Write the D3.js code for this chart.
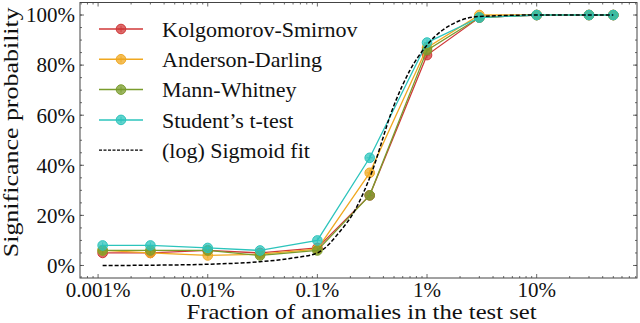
<!DOCTYPE html>
<html>
<head>
<meta charset="utf-8">
<script src="https://cdn.jsdelivr.net/npm/d3@7"></script>
<style>
  body { margin: 0; background: #fff; }
  text { font-family: "Liberation Serif", "DejaVu Serif", serif; fill: #111; }
</style>
</head>
<body>
<div id="chart"></div>
<script>
// fraccion de anomalias (eje x)
const fractions = [1.1e-5, 3e-5, 1e-4, 3e-4, 1e-3, 3e-3, 1e-2, 3e-2, 0.1, 0.3, 0.5];

// probabilidades por test
const ksValues = [0.05, 0.05, 0.06, 0.05, 0.07, 0.28, 0.84, 0.99, 1, 1, 1];
const adValues = [0.06, 0.05, 0.04, 0.045, 0.065, 0.37, 0.87, 1.0, 1, 1, 1];
const mwValues = [0.06, 0.06, 0.06, 0.04, 0.06, 0.28, 0.86, 0.99, 1, 1, 1];
const ttValues = [0.08, 0.08, 0.07, 0.06, 0.10, 0.43, 0.89, 0.99, 1, 1, 1];

// ajuste sigmoide
const fitX = [1.1e-5, 3e-5, 1e-4, 3e-4, 6e-4, 1e-3, 1.6e-3, 2.2e-3, 3e-3, 5e-3, 7e-3, 1e-2, 2e-2, 3e-2, 0.1, 0.5];
const fitY = [0, 0.001, 0.005, 0.015, 0.03, 0.05, 0.135, 0.22, 0.35, 0.64, 0.78, 0.88, 0.978, 0.994, 1, 1];

const seriesNames = ["Kolgomorov-Smirnov", "Anderson-Darling", "Mann-Whitney", "Student\u2019s t-test"];
const seriesColors = ["#d03838", "#f0a820", "#7a9c2c", "#2cc4bc"];
const xTicks = [1e-5, 1e-4, 1e-3, 1e-2, 1e-1];
const xTickLabels = ["0.001%", "0.01%", "0.1%", "1%", "10%"];
const yTicks = [0, 0.2, 0.4, 0.6, 0.8, 1];

const totalWidth = 640, totalHeight = 323;
const margins = { top: 2.5, right: 3, bottom: 45, left: 80 };
const w = totalWidth - margins.left - margins.right;
const h = totalHeight - margins.top - margins.bottom;

const svg = d3.select("#chart").append("svg")
  .attr("width", totalWidth).attr("height", totalHeight)
  .append("g")
  .attr("transform", `translate(${margins.left},${margins.top})`);

const x = d3.scaleLog().domain([10 ** -5.165, 10 ** -0.085]).range([0, w]);
const y = d3.scaleLinear().domain([-0.05, 1.05]).range([h, 0]);

// ticks menores
const minorX = [];
for (let e = -6; e <= 0; e++) for (let m = 2; m <= 9; m++) {
  const v = m * 10 ** e;
  if (v > x.domain()[0] && v < x.domain()[1]) minorX.push(v);
}
const minorY = d3.range(-0.05, 1.06, 0.05).filter(v => v > -0.05 && v < 1.05);

const axisColor = "#444";
const tickG = svg.append("g").attr("stroke", axisColor).attr("stroke-width", 0.8);
xTicks.forEach(v => {
  tickG.append("line").attr("x1", x(v)).attr("x2", x(v)).attr("y1", h).attr("y2", h - 4);
  tickG.append("line").attr("x1", x(v)).attr("x2", x(v)).attr("y1", 0).attr("y2", 4);
});
minorX.forEach(v => {
  tickG.append("line").attr("x1", x(v)).attr("x2", x(v)).attr("y1", h).attr("y2", h - 2);
  tickG.append("line").attr("x1", x(v)).attr("x2", x(v)).attr("y1", 0).attr("y2", 2);
});
yTicks.forEach(v => {
  tickG.append("line").attr("x1", 0).attr("x2", 4).attr("y1", y(v)).attr("y2", y(v));
  tickG.append("line").attr("x1", w).attr("x2", w - 4).attr("y1", y(v)).attr("y2", y(v));
});
minorY.forEach(v => {
  tickG.append("line").attr("x1", 0).attr("x2", 2).attr("y1", y(v)).attr("y2", y(v));
  tickG.append("line").attr("x1", w).attr("x2", w - 2).attr("y1", y(v)).attr("y2", y(v));
});

svg.append("rect").attr("width", w).attr("height", h)
  .attr("fill", "none").attr("stroke", axisColor).attr("stroke-width", 1);

// etiquetas de ticks
svg.append("g").selectAll("text").data(xTicks).join("text")
  .attr("x", d => x(d)).attr("y", h + 18.5)
  .attr("text-anchor", "middle").attr("font-size", 21)
  .text((d, i) => xTickLabels[i]);

svg.append("g").selectAll("text").data(yTicks).join("text")
  .attr("x", -5).attr("y", d => y(d)).attr("dy", "0.35em")
  .attr("text-anchor", "end").attr("font-size", 21)
  .text(d => `${Math.round(d * 100)}%`);

svg.append("text")
  .attr("x", 281.5).attr("y", h + 41)
  .attr("text-anchor", "middle").attr("font-size", 21)
  .attr("textLength", 350).attr("lengthAdjust", "spacingAndGlyphs")
  .text("Fraction of anomalies in the test set");

svg.append("text")
  .attr("transform", `translate(-62,${h / 2 - 8}) rotate(-90)`)
  .attr("text-anchor", "middle").attr("font-size", 21)
  .attr("textLength", 250).attr("lengthAdjust", "spacingAndGlyphs")
  .text("Significance probability");

// lineas
const allValues = [ksValues, adValues, mwValues, ttValues];
const line = d3.line().x(d => x(d[0])).y(d => y(d[1]));
const fitLine = d3.line().x(d => x(d[0])).y(d => y(d[1])).curve(d3.curveMonotoneX);

const drawMarker = (g, cx, cy, color) => {
  g.append("circle").attr("cx", cx).attr("cy", cy).attr("r", 4.8)
    .attr("fill", color).attr("fill-opacity", 0.75)
    .attr("stroke", color).attr("stroke-width", 1);
  g.append("path").attr("d", `M${cx - 3},${cy}H${cx + 3}M${cx},${cy - 3}V${cy + 3}`)
    .attr("stroke", color).attr("stroke-width", 0.8);
};

allValues.forEach((vals, i) => {
  const pts = fractions.map((f, j) => [f, vals[j]]);
  const g = svg.append("g");
  g.append("path").attr("d", line(pts)).attr("fill", "none")
    .attr("stroke", seriesColors[i]).attr("stroke-width", 1.3);
  pts.forEach(p => drawMarker(g, x(p[0]), y(p[1]), seriesColors[i]));
});

svg.append("path")
  .attr("d", fitLine(fitX.map((f, j) => [f, fitY[j]])))
  .attr("fill", "none").attr("stroke", "#000").attr("stroke-width", 1.5)
  .attr("stroke-dasharray", "4,2");

// leyenda
const legend = svg.append("g").attr("transform", "translate(19,26.5)");
const legendNames = seriesNames.concat(["(log) Sigmoid fit"]);
legendNames.forEach((name, i) => {
  const row = legend.append("g").attr("transform", `translate(0,${i * 30.3})`);
  if (i < 4) {
    row.append("line").attr("x1", 0).attr("x2", 44).attr("stroke", seriesColors[i]).attr("stroke-width", 1.5);
    drawMarker(row, 22, 0, seriesColors[i]);
  } else {
    row.append("line").attr("x1", 0).attr("x2", 44).attr("stroke", "#000")
      .attr("stroke-width", 1.2).attr("stroke-dasharray", "3,1.5");
  }
  row.append("text").attr("x", 63).attr("dy", "0.35em").attr("font-size", 22).text(name);
});
</script>
</body>
</html>
